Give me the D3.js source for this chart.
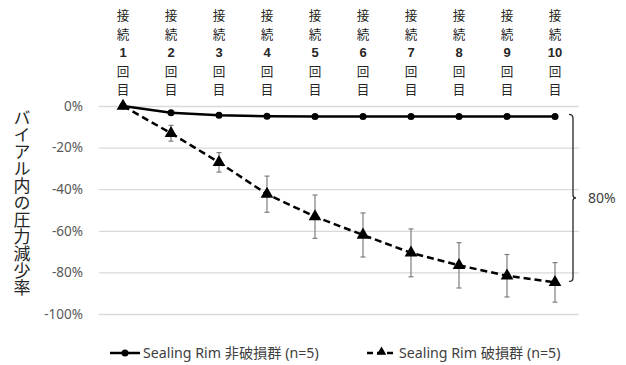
<!DOCTYPE html>
<html>
<head>
<meta charset="utf-8">
<script src="https://cdnjs.cloudflare.com/ajax/libs/d3/7.8.5/d3.min.js"></script>
<style>
  body { margin: 0; background: #fff; }
  svg { display: block; font-family: "Noto Sans", "Noto Sans CJK JP", sans-serif; }
</style>
</head>
<body>
<div id="chart"></div>
<script>
// categories (connection count)
var rounds = ['1', '2', '3', '4', '5', '6', '7', '8', '9', '10'];
// pressure decrease, % (non-damaged group)
var intactValues = [0, -3.2, -4.5, -4.9, -5, -5, -5, -5, -5, -5];
// pressure decrease, % (damaged group) and its standard deviation
var damagedValues = [0, -13.1, -27.1, -42.4, -53.2, -62.0, -70.6, -76.6, -81.6, -84.8];
var damagedErr = [0, 3.8, 4.7, 8.7, 10.4, 10.6, 11.5, 10.9, 10.2, 9.5];
var yTicks = [0, -20, -40, -60, -80, -100];
var seriesNames = ['Sealing Rim 非破損群 (n=5)', 'Sealing Rim 破損群 (n=5)'];
var diffLabel = '80%';
var yTitle = 'バイアル内の圧力減少率';

var totalWidth = 626;
var totalHeight = 365;
var margin = { top: 106, right: 47, bottom: 51, left: 99 };
var width = totalWidth - margin.left - margin.right;
var height = totalHeight - margin.top - margin.bottom;

var svg = d3.select('#chart').append('svg')
    .attr('width', totalWidth)
    .attr('height', totalHeight);

var g = svg.append('g')
    .attr('transform', 'translate(' + margin.left + ',' + margin.top + ')');

var xScale = d3.scaleBand().domain(rounds).range([0, width]);
var yScale = d3.scaleLinear().domain([-100, 0]).range([height, 0]);
var cx = function(d, i) { return xScale(rounds[i]) + xScale.bandwidth() / 2; };

// gridlines + y labels
var yAxis = d3.axisLeft(yScale).tickValues(yTicks)
    .tickSize(-width).tickPadding(16)
    .tickFormat(function(d) { return d + '%'; });
var yAxisGroup = g.append('g').call(yAxis);
yAxisGroup.select('.domain').remove();
yAxisGroup.selectAll('line').attr('stroke', '#d9d9d9').attr('stroke-width', 1.3);
yAxisGroup.selectAll('text').attr('fill', '#595959').attr('font-size', 13.5)
    .attr('font-family', '"Noto Sans", sans-serif');

// top category labels, one char per row
var topGroup = svg.append('g');
rounds.forEach(function(r, i) {
    var chars = ['接', '続', r, '回', '目'];
    var x = margin.left + cx(null, i);
    chars.forEach(function(c, j) {
        topGroup.append('text')
            .attr('x', x)
            .attr('y', 20 + j * 18.5)
            .attr('text-anchor', 'middle')
            .attr('font-size', j === 2 ? 13 : 12.6)
            .attr('font-weight', j === 2 ? 'bold' : 'normal')
            .attr('font-family', j === 2 ? '"Liberation Sans", sans-serif' : '"Noto Sans CJK JP", sans-serif')
            .attr('fill', '#262626')
            .text(c);
    });
});

// y title
svg.append('text')
    .attr('x', 22)
    .attr('y', 109)
    .attr('writing-mode', 'vertical-rl')
    .style('text-orientation', 'upright')
    .attr('font-size', 17)
    .attr('font-family', '"Noto Sans CJK JP", sans-serif')
    .attr('fill', '#262626')
    .text(yTitle);

var line = d3.line().x(cx).y(function(d) { return yScale(d); });

// error bars
var errGroup = g.append('g');
damagedValues.forEach(function(v, i) {
    if (!damagedErr[i]) return;
    var x = cx(null, i);
    var y1 = yScale(v + damagedErr[i]), y2 = yScale(v - damagedErr[i]);
    errGroup.append('line').attr('x1', x).attr('x2', x).attr('y1', y1).attr('y2', y2);
    errGroup.append('line').attr('x1', x - 2.5).attr('x2', x + 2.5).attr('y1', y1).attr('y2', y1);
    errGroup.append('line').attr('x1', x - 2.5).attr('x2', x + 2.5).attr('y1', y2).attr('y2', y2);
});
errGroup.selectAll('line').attr('stroke', '#7f7f7f').attr('stroke-width', 1.2);

// damaged (dashed)
g.append('path').datum(damagedValues)
    .attr('d', line)
    .attr('fill', 'none')
    .attr('stroke', '#000')
    .attr('stroke-width', 2.5)
    .attr('stroke-dasharray', '7,4');

var tri = d3.symbol().type(d3.symbolTriangle).size(70);
g.selectAll('.tri').data(damagedValues).enter().append('path')
    .attr('class', 'tri')
    .attr('d', tri)
    .attr('transform', function(d, i) { return 'translate(' + cx(d, i) + ',' + yScale(d) + ')'; })
    .attr('fill', '#000');

// intact (solid)
g.append('path').datum(intactValues)
    .attr('d', line)
    .attr('fill', 'none')
    .attr('stroke', '#000')
    .attr('stroke-width', 2.5);

g.selectAll('.dot').data(intactValues).enter().append('circle')
    .attr('class', 'dot')
    .attr('cx', cx)
    .attr('cy', function(d) { return yScale(d); })
    .attr('r', 3.5)
    .attr('fill', '#000');

// bracket showing the gap at the last round
var last = rounds.length - 1;
var bTop = yScale(intactValues[last]) - 2;
var bBot = yScale(damagedValues[last]) - 1;
var bMid = (bTop + bBot) / 2;
var bx = width - 10;
g.append('path')
    .attr('d', 'M' + bx + ',' + bTop + ' q4,0 4,4 L' + (bx + 4) + ',' + (bMid - 3) +
        ' q0,3 3,3 q-3,0 -3,3 L' + (bx + 4) + ',' + (bBot - 4) + ' q0,4 -4,4')
    .attr('fill', 'none')
    .attr('stroke', '#262626')
    .attr('stroke-width', 1.3);
g.append('text')
    .attr('x', bx + 19)
    .attr('y', bMid + 5)
    .attr('font-size', 14)
    .attr('fill', '#404040')
    .text(diffLabel);

// legend
var legend = svg.append('g').attr('transform', 'translate(0,353)');
legend.append('line').attr('x1', 110).attr('x2', 140).attr('y1', 0).attr('y2', 0)
    .attr('stroke', '#000').attr('stroke-width', 2.5);
legend.append('circle').attr('cx', 125).attr('cy', 0).attr('r', 3.5).attr('fill', '#000');
legend.append('text').attr('x', 143).attr('y', 5).attr('font-size', 14.2).attr('fill', '#404040')
    .text(seriesNames[0]);

legend.append('line').attr('x1', 367).attr('x2', 396).attr('y1', 0).attr('y2', 0)
    .attr('stroke', '#000').attr('stroke-width', 2.5).attr('stroke-dasharray', '6,4');
legend.append('path').attr('d', d3.symbol().type(d3.symbolTriangle).size(40))
    .attr('transform', 'translate(381.5,-1)').attr('fill', '#000');
legend.append('text').attr('x', 399).attr('y', 5).attr('font-size', 14.2).attr('fill', '#404040')
    .text(seriesNames[1]);
</script>
</body>
</html>
